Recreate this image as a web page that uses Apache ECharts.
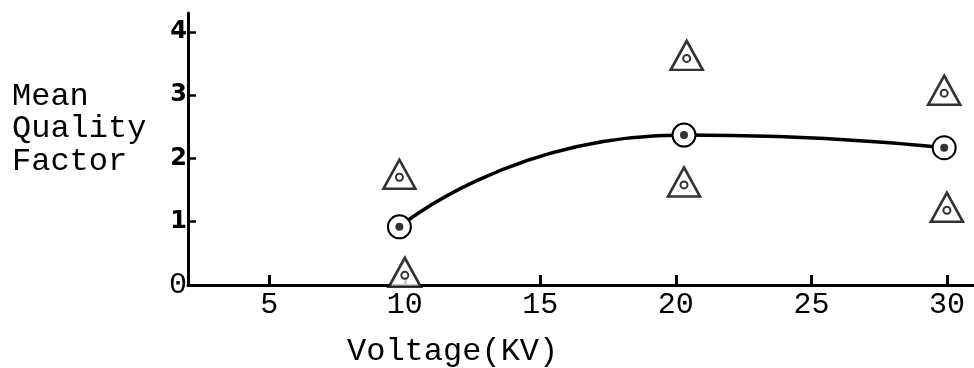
<!DOCTYPE html>
<html>
<head>
<meta charset="utf-8">
<style>
  html, body { margin: 0; padding: 0; background: #ffffff; }
  #chart { width: 974px; height: 368px; }
</style>
<script src="https://cdn.jsdelivr.net/npm/echarts@6/dist/echarts.min.js"></script>
</head>
<body>
<div id="chart"></div>
<script>
// Voltage (kV) settings and the mean quality factor at each setting
const meanVoltage = [9.8, 20.3, 29.9];
const meanQuality = [0.92, 2.37, 2.17];

// Individual readings at each voltage (triangles)
const sampleVoltage = [9.8, 10.0, 20.4, 20.3, 29.9, 30.0];
const sampleQuality = [1.75, 0.2, 3.63, 1.63, 3.08, 1.23];

// Axis tick labels
const xTicks = [5, 10, 15, 20, 25, 30];
const yTicks = [0, 1, 2, 3, 4];

const mono = '"Liberation Mono", "DejaVu Sans Mono", monospace';

const meanPoints = meanVoltage.map((v, i) => [v, meanQuality[i]]);
const samplePoints = sampleVoltage.map((v, i) => [v, sampleQuality[i]]);

const chart = echarts.init(document.getElementById('chart'));
chart.setOption({
  backgroundColor: '#ffffff',
  animation: false,
  grid: { left: 188, right: 0, top: 13, bottom: 83 },
  xAxis: {
    type: 'value',
    min: 2,
    max: 31,
    splitLine: { show: false },
    axisLine: { show: true, lineStyle: { color: '#000', width: 3 } },
    axisTick: {
      show: true, inside: true, length: 10,
      customValues: xTicks,
      lineStyle: { color: '#000', width: 3 }
    },
    axisLabel: {
      customValues: xTicks,
      margin: 5,
      color: '#000',
      fontFamily: mono,
      fontSize: 30
    }
  },
  yAxis: {
    type: 'value',
    min: 0,
    max: 4.3,
    splitLine: { show: false },
    axisLine: { show: true, lineStyle: { color: '#000', width: 3 } },
    axisTick: {
      show: true, inside: true, length: 8,
      customValues: yTicks,
      lineStyle: { color: '#000', width: 2.5 }
    },
    axisLabel: {
      customValues: yTicks,
      margin: 1,
      formatter: v => v === 0 ? '{z|0}' : '{n|' + v + '}',
      rich: {
        n: { color: '#000', fontFamily: '"DejaVu Sans", sans-serif', fontWeight: 'bold', fontSize: 24 },
        z: { color: '#000', fontFamily: mono, fontSize: 30 }
      }
    }
  },
  graphic: [
    {
      type: 'text', left: 12, top: 80,
      style: {
        text: 'Mean\nQuality\nFactor',
        font: '32px ' + mono,
        lineHeight: 32.5,
        fill: '#000'
      }
    },
    {
      type: 'text', left: 347, top: 336,
      style: {
        text: 'Voltage(KV)',
        font: '32px ' + mono,
        fill: '#000'
      }
    }
  ],
  series: [
    {
      name: 'Mean',
      type: 'line',
      data: meanPoints,
      smooth: 0.6,
      symbol: 'emptyCircle',
      symbolSize: 23,
      lineStyle: { color: '#000', width: 3.5 },
      itemStyle: { color: '#000', borderColor: '#000', borderWidth: 4 },
      z: 3
    },
    {
      name: 'Mean centre',
      type: 'scatter',
      data: meanPoints,
      symbol: 'circle',
      symbolSize: 8,
      itemStyle: { color: '#000' },
      z: 4
    },
    {
      name: 'Samples',
      type: 'scatter',
      data: samplePoints,
      symbol: 'triangle',
      symbolSize: [32, 29],
      itemStyle: { color: '#fff', borderColor: '#000', borderWidth: 2.6 },
      z: 3
    },
    {
      name: 'Sample marks',
      type: 'scatter',
      data: samplePoints,
      symbol: 'emptyCircle',
      symbolSize: 7,
      symbolOffset: [0, 3],
      itemStyle: { color: '#000', borderColor: '#000', borderWidth: 2 },
      z: 4
    }
  ]
});
</script>
</body>
</html>
